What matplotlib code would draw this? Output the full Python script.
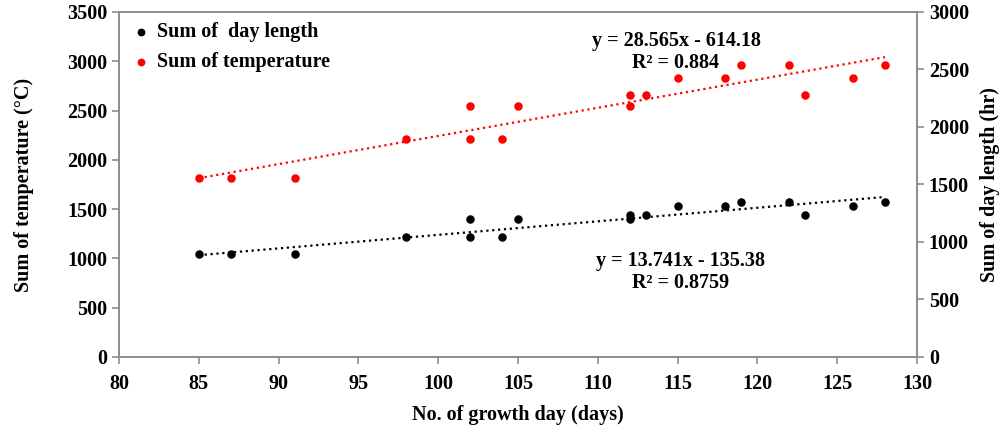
import numpy as np
import matplotlib
matplotlib.use('Agg')
import matplotlib.pyplot as plt

plt.rcParams['font.family'] = ['Liberation Serif', 'DejaVu Serif']
plt.rcParams['font.weight'] = 'bold'

# growth days
days = [85, 87, 91, 98, 102, 102, 104, 105, 112, 112, 113, 115, 118, 119, 122, 123, 126, 128]
# sum of temperature (left axis)
temp = [1818, 1818, 1818, 2214, 2543, 2214, 2214, 2543, 2654, 2543, 2654, 2833, 2833, 2958, 2958, 2654, 2833, 2958]
days_dl = [85, 87, 91, 98, 102, 102, 104, 105, 112, 112, 113, 115, 118, 119, 122, 123, 126, 128]
# sum of day length (plotted on the left scale, as in the original)
daylen = [1042, 1042, 1042, 1214, 1396, 1214, 1214, 1396, 1440, 1396, 1440, 1528, 1528, 1575, 1575, 1443, 1528, 1575]

# trendline coefficients as printed on the chart
temp_fit = (28.565, -614.18)
dl_fit = (13.741, -135.38)
temp_eq = 'y = 28.565x - 614.18\nR² = 0.884'
dl_eq = 'y = 13.741x - 135.38\nR² = 0.8759'

FS = 14.5

fig = plt.figure(figsize=(10.04, 4.28), dpi=100)
ax = fig.add_axes([0.1185, 0.166, 0.7948, 0.806])

ax.scatter(days_dl, daylen, s=26, color='black', zorder=3, label='Sum of  day length')
ax.scatter(days, temp, s=26, color='red', zorder=3, label='Sum of temperature')

xx = np.array([min(days), max(days)])
ax.plot(xx, temp_fit[0] * xx + temp_fit[1], color='red', ls=':', lw=1.6)
ax.plot(xx, dl_fit[0] * xx + dl_fit[1], color='black', ls=':', lw=1.6)

ax.text(114.9, 3095, temp_eq, ha='center', va='center', fontsize=FS, fontweight='bold', linespacing=1.1)
ax.text(115.2, 860, dl_eq, ha='center', va='center', fontsize=FS, fontweight='bold', linespacing=1.1)

ax.set_xlim(80, 130)
ax.set_ylim(0, 3500)
ax.set_xticks(range(80, 131, 5))
ax.set_yticks(range(0, 3501, 500))
ax.set_xlabel('No. of growth day (days)', fontsize=FS, fontweight='bold', labelpad=8)
ax.set_ylabel('Sum of temperature (\u00b0C)', fontsize=FS, fontweight='bold', labelpad=24)

ax2 = ax.twinx()
ax2.set_ylim(0, 3000)
ax2.set_yticks(range(0, 3001, 500))
ax2.set_ylabel('Sum of day length (hr)', fontsize=FS, fontweight='bold', labelpad=8)

for a in (ax, ax2):
    for s in a.spines.values():
        s.set_color('#8c8c8c')
        s.set_linewidth(1.2)
    a.tick_params(colors='#8c8c8c', labelcolor='black', labelsize=FS, length=5, width=1.2, direction='out')
    for lab in a.get_xticklabels() + a.get_yticklabels():
        lab.set_fontweight('bold')
ax.tick_params(axis='x', pad=7)

leg = ax.legend(loc='upper left', frameon=False, fontsize=FS, handletextpad=0.2,
                borderaxespad=0.2, borderpad=0.3, labelspacing=0.5, markerscale=0.9,
                handlelength=1.2)
for t in leg.get_texts():
    t.set_fontweight('bold')

fig.savefig('out.png', dpi=100)
